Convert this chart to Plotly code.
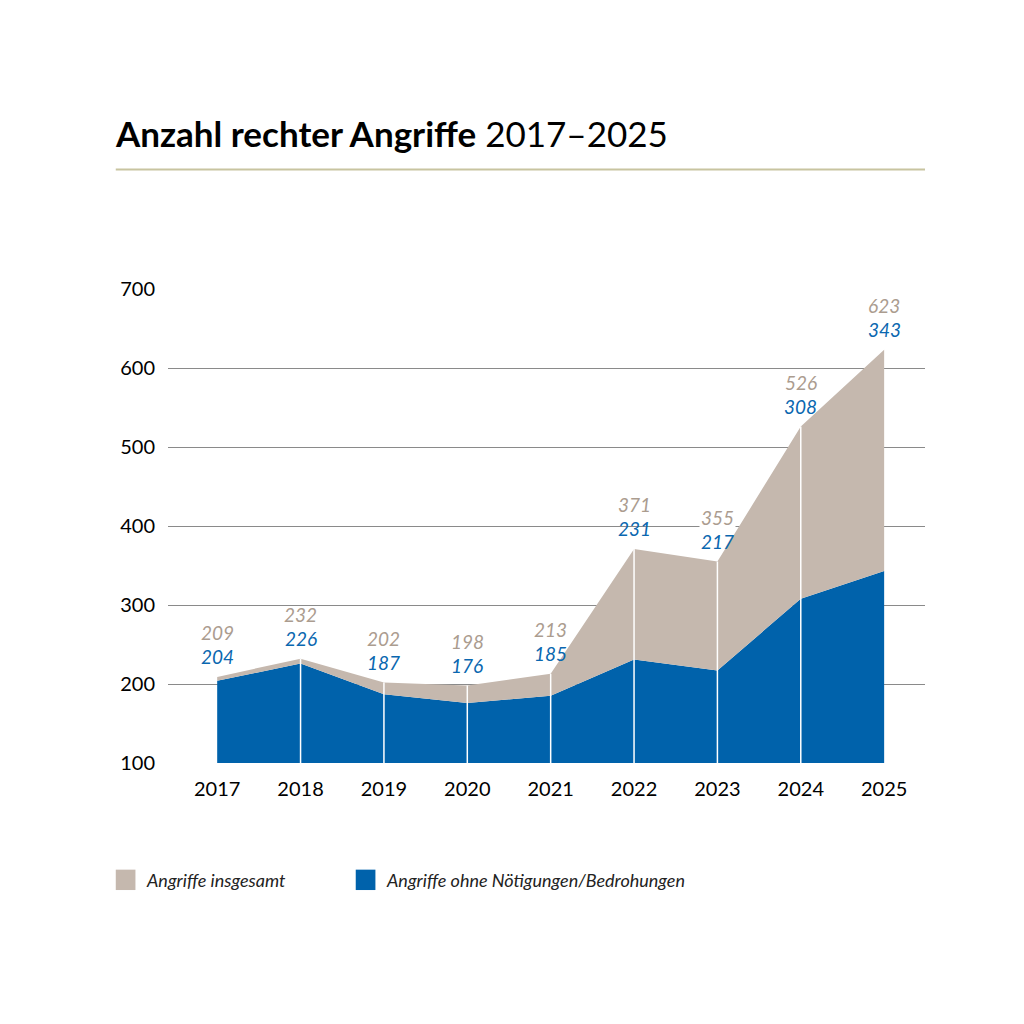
import plotly.graph_objects as go

years = [2017, 2018, 2019, 2020, 2021, 2022, 2023, 2024, 2025]
total = [209, 232, 202, 198, 213, 371, 355, 526, 623]
ohne = [204, 226, 187, 176, 185, 231, 217, 308, 343]

blue = '#0062ab'
tan = '#c5b8ae'
tan_txt = '#ab9c8f'
blue_txt = '#0a67b0'
font = 'Lato'

fig = go.Figure()
fig.add_trace(go.Scatter(x=years, y=ohne, mode='lines', line=dict(width=0),
                         fill='tozeroy', fillcolor=blue, showlegend=False))
fig.add_trace(go.Scatter(x=years, y=total, mode='lines', line=dict(width=0),
                         fill='tonexty', fillcolor=tan, showlegend=False))

# weisse Trennlinien an den Jahren
for yr, t in zip(years[1:-1], total[1:-1]):
    fig.add_shape(type='line', x0=yr, x1=yr, y0=100, y1=t,
                  line=dict(color='white', width=1.5), layer='above')

# Wertebeschriftungen
for yr, t, o in zip(years, total, ohne):
    fig.add_annotation(x=yr, y=t, text=f'<i>{t}</i>', showarrow=False, yshift=44,
                       font=dict(family=font, size=19, color=tan_txt),
                       bgcolor='white' if yr == 2023 else None)
    fig.add_annotation(x=yr, y=t, text=f'<i>{o}</i>', showarrow=False, yshift=20,
                       font=dict(family=font, size=19, color=blue_txt))

# Titel
fig.add_annotation(xref='paper', yref='paper', x=-0.073, y=1.33, xanchor='left',
                   yanchor='middle', showarrow=False,
                   text='<b>Anzahl rechter Angriffe</b> 2017–2025',
                   font=dict(family=font, size=35, color='black'))
fig.add_shape(type='line', xref='paper', yref='paper', x0=-0.069, x1=1, y0=1.252, y1=1.252,
              line=dict(color='#c8c4a0', width=2))

# Legende
for xp, col, txt in [(-0.069, tan, 'Angriffe insgesamt'),
                     (0.248, blue, 'Angriffe ohne Nötigungen/Bedrohungen')]:
    fig.add_shape(type='rect', xref='paper', yref='paper', x0=xp, x1=xp + 0.026,
                  y0=-0.225, y1=-0.268, fillcolor=col, line=dict(width=0))
    fig.add_annotation(xref='paper', yref='paper', x=xp + 0.037, y=-0.247,
                       xanchor='left', yanchor='middle', showarrow=False,
                       text=f'<i>{txt}</i>', font=dict(family=font, size=18, color='#222'))

fig.update_layout(
    width=1024, height=1024,
    margin=dict(l=160, r=107, t=281, b=269),
    paper_bgcolor='white', plot_bgcolor='white',
    font=dict(family=font, size=20, color='black'),
    xaxis=dict(range=[2016.41, 2025.49], tickvals=years, showgrid=False,
               zeroline=False, showline=False, ticks='', ticklabelstandoff=12),
    yaxis=dict(range=[100, 700], dtick=100, showgrid=True, gridcolor='#8a8a8a',
               gridwidth=1, zeroline=False, ticks='', ticklabelstandoff=12),
)
fig.write_html('out.html')
